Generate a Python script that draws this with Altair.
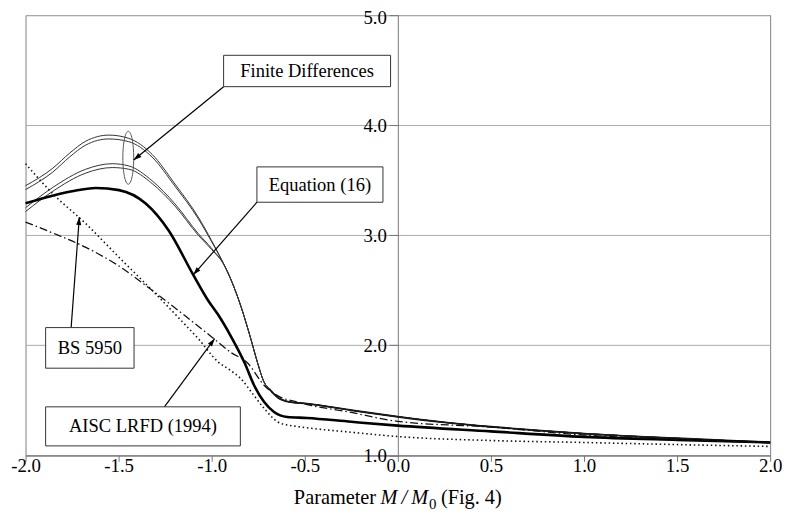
import math
import altair as alt
import pandas as pd

# ---------------- data ----------------
# Finite differences: four thin curves (two close pairs) that merge into one tail
fd_a_x = [-2.0, -1.853, -1.764, -1.676, -1.552, -1.445, -1.32, -1.197, -1.072, -1.0]
fd_a1_y = [3.45, 3.61, 3.745, 3.855, 3.91, 3.88, 3.735, 3.465, 3.165, 2.95]
fd_a2_y = [3.415, 3.575, 3.71, 3.82, 3.875, 3.85, 3.71, 3.445, 3.15, 2.94]
fd_b_x = [-2.0, -1.853, -1.676, -1.534, -1.445, -1.32, -1.197, -1.072, -1.0]
fd_b1_y = [3.25, 3.435, 3.60, 3.65, 3.63, 3.495, 3.285, 3.015, 2.88]
fd_b2_y = [3.215, 3.40, 3.565, 3.615, 3.60, 3.47, 3.265, 3.0, 2.87]
fd_tail_x = [-0.93, -0.896, -0.843, -0.789, -0.754, -0.718, -0.691, -0.647, -0.577,
             -0.488, -0.25, 0.0, 0.25, 0.5, 0.75, 1.0, 1.5, 2.0]
fd_tail_y = [2.72, 2.595, 2.354, 2.054, 1.844, 1.664, 1.604, 1.529, 1.484,
             1.47, 1.41, 1.351, 1.30, 1.26, 1.227, 1.198, 1.155, 1.117]

# Equation (16): thick solid curve
eq_x = [-2.0, -1.855, -1.75, -1.622, -1.498, -1.356, -1.232, -1.099, -1.02, -0.966,
        -0.896, -0.824, -0.771, -0.718, -0.665, -0.594, -0.488, -0.25, 0.0, 0.5, 1.0, 1.5, 2.0]
eq_y = [3.29, 3.36, 3.40, 3.43, 3.41, 3.29, 3.045, 2.64, 2.41, 2.28,
        2.08, 1.844, 1.633, 1.484, 1.394, 1.349, 1.34, 1.305, 1.27, 1.218, 1.168, 1.14, 1.117]

# BS 5950: dotted curve
bs_x = [-2.0, -1.853, -1.676, -1.498, -1.32, -1.144, -1.072, -0.966, -0.897, -0.843,
        -0.78, -0.718, -0.647, -0.59, -0.54, -0.25, 0.0, 0.5, 1.0, 1.5, 2.0]
bs_y = [3.65, 3.376, 3.105, 2.80, 2.50, 2.19, 2.06, 1.85, 1.77, 1.696,
        1.56, 1.426, 1.306, 1.275, 1.262, 1.21, 1.171, 1.135, 1.117, 1.098, 1.081]

# AISC LRFD (1994): dash-dot curve
aisc_x = [-2.0, -1.853, -1.676, -1.498, -1.32, -1.144, -0.984, -0.896, -0.81, -0.716,
          -0.647, -0.54, -0.25, 0.0, 0.5, 1.0, 1.5, 2.0]
aisc_y = [3.12, 3.02, 2.89, 2.72, 2.50, 2.27, 2.054, 1.934, 1.844, 1.633,
          1.543, 1.484, 1.39, 1.309, 1.257, 1.185, 1.145, 1.114]

x_ticks = [-2.0, -1.5, -1.0, -0.5, 0.0, 0.5, 1.0, 1.5, 2.0]
y_ticks = [1.0, 2.0, 3.0, 4.0, 5.0]

box_labels = ["Finite Differences", "Equation (16)", "BS 5950", "AISC LRFD (1994)"]
box_x1 = [-0.936, -0.757, -1.892, -1.892]
box_x2 = [-0.039, -0.080, -1.417, -0.846]
box_y1 = [4.35, 3.30, 1.792, 1.086]
box_y2 = [4.635, 3.621, 2.161, 1.441]

arrow_x1 = [-0.936, -0.757, -1.755, -1.254]
arrow_y1 = [4.35, 3.30, 2.161, 1.441]
arrow_x2 = [-1.419, -1.099, -1.711, -0.984]
arrow_y2 = [3.684, 2.64, 3.165, 2.06]

ellipse_x = [-1.448]
ellipse_y = [3.704]

# ---------------- layout ----------------
W, H = 752, 444.6
PX_X = W / 4.0   # pixels per x unit
PX_Y = H / 4.0   # pixels per y unit
SERIF = "Liberation Serif, Times New Roman, serif"

# ---------------- tables ----------------
rows = []
for name, xs, ys in [("A1", fd_a_x, fd_a1_y), ("A2", fd_a_x, fd_a2_y),
                     ("B1", fd_b_x, fd_b1_y), ("B2", fd_b_x, fd_b2_y)]:
    for xv, yv in zip(xs + fd_tail_x, ys + fd_tail_y):
        rows.append({"series": name, "x": xv, "y": yv})
fd_df = pd.DataFrame(rows)
tail_df = pd.DataFrame({"x": fd_tail_x, "y": fd_tail_y})
tail_df = tail_df[tail_df["x"] >= -0.70]
eq_df = pd.DataFrame({"x": eq_x, "y": eq_y})
bs_df = pd.DataFrame({"x": bs_x, "y": bs_y})
aisc_df = pd.DataFrame({"x": aisc_x, "y": aisc_y})

box_df = pd.DataFrame({"label": box_labels, "x": box_x1, "x2": box_x2, "y": box_y1, "y2": box_y2})
box_df["cx"] = (box_df["x"] + box_df["x2"]) / 2
box_df["cy"] = (box_df["y"] + box_df["y2"]) / 2

arr_df = pd.DataFrame({"x": arrow_x1, "y": arrow_y1, "x2": arrow_x2, "y2": arrow_y2})
angles = []
for a0, b0, c0, d0 in zip(arrow_x1, arrow_y1, arrow_x2, arrow_y2):
    dx = (c0 - a0) * PX_X
    dy_screen = -(d0 - b0) * PX_Y
    angles.append(math.degrees(math.atan2(dx, -dy_screen)) % 360)
arr_df["angle"] = angles

ell_df = pd.DataFrame({"x": ellipse_x, "y": ellipse_y})

# ---------------- encodings ----------------
X_SCALE = alt.Scale(domain=[-2, 2], nice=False, zero=False)
Y_SCALE = alt.Scale(domain=[1, 5], nice=False, zero=False)

x_axis = alt.Axis(
    values=x_ticks,
    labelExpr="(datum.value < 0 ? '-' : '') + format(abs(datum.value), '.1f')",
    labelFont=SERIF, labelFontSize=19, labelColor="black",
    tickSize=6, tickColor="#777777", domainColor="#777777",
    labelPadding=10, labelBaseline="alphabetic",
    labelFlush=False, labelOverlap=False, grid=False, title=None,
)
y_axis = alt.Axis(
    values=y_ticks,
    labelExpr="format(datum.value, '.1f')",
    labelFont=SERIF, labelFontSize=19, labelColor="black",
    offset=-W / 2, tickSize=9, tickColor="#777777", domainColor="#777777",
    labelPadding=2.5, labelBaseline="middle",
    labelOffset={"condition": {"test": "datum.value == 5", "value": 2.5}, "value": 0},
    labelFlush=False, labelOverlap=False,
    grid=True, gridColor="#aaaaaa", gridWidth=1, title=None,
)

X = alt.X("x:Q", scale=X_SCALE, axis=x_axis)
Y = alt.Y("y:Q", scale=Y_SCALE, axis=y_axis)

fd_layer = alt.Chart(fd_df).mark_line(color="#333333", strokeWidth=1, interpolate="monotone").encode(
    x=X, y=Y, detail="series:N")
tail_layer = alt.Chart(tail_df).mark_line(color="#1a1a1a", strokeWidth=1.9, interpolate="monotone").encode(
    x=X, y=Y)
eq_layer = alt.Chart(eq_df).mark_line(color="black", strokeWidth=2.6, interpolate="monotone").encode(x=X, y=Y)
bs_layer = alt.Chart(bs_df).mark_line(color="#111111", strokeWidth=1.6, strokeDash=[1.5, 2.8],
                                      interpolate="monotone").encode(x=X, y=Y)
aisc_layer = alt.Chart(aisc_df).mark_line(color="#111111", strokeWidth=1.3, strokeDash=[8, 3, 1.5, 3],
                                          interpolate="monotone").encode(x=X, y=Y)

a = 0.206
k = 0.5523
ell_path = (f"M0,-1 C{a*k:.4f},-1 {a:.4f},{-k} {a:.4f},0 C{a:.4f},{k} {a*k:.4f},1 0,1 "
            f"C{-a*k:.4f},1 {-a:.4f},{k} {-a:.4f},0 C{-a:.4f},{-k} {-a*k:.4f},-1 0,-1 Z")
ell_layer = alt.Chart(ell_df).mark_point(shape=ell_path, size=2851, filled=False, stroke="#555555",
                                         strokeWidth=1, opacity=1).encode(x=X, y=Y)

arrow_lines = alt.Chart(arr_df).mark_rule(color="black", strokeWidth=1.2).encode(
    x=X, y=Y, x2="x2:Q", y2="y2:Q")
head_df = arr_df[["x2", "y2", "angle"]].rename(columns={"x2": "x", "y2": "y"})
arrow_heads = alt.Chart(head_df).mark_point(shape="M0,0 L0.32,1 L-0.32,1 Z", size=256, filled=True,
                                            color="black", opacity=1).encode(
    x=X, y=Y, angle=alt.Angle("angle:Q", scale=None))

boxes = alt.Chart(box_df).mark_rect(fill="white", stroke="#333333", strokeWidth=1).encode(
    x=X, x2="x2:Q", y=Y, y2="y2:Q")
box_text = alt.Chart(box_df).mark_text(font=SERIF, fontSize=18.7, color="black", baseline="middle").encode(
    x=alt.X("cx:Q", scale=X_SCALE), y=alt.Y("cy:Q", scale=Y_SCALE), text="label:N")

title_src = pd.DataFrame({"t": ["Parameter", "M\u2009/\u2009M", "0", "(Fig. 4)"]})
def title_piece(i, xpix, ypix, size, style):
    return alt.Chart(title_src.iloc[[i]]).mark_text(
        align="left", baseline="alphabetic", font=SERIF, fontSize=size, fontStyle=style, color="black"
    ).encode(x=alt.value(xpix), y=alt.value(ypix), text="t:N")

t1 = title_piece(0, 271, 493.5, 20.5, "normal")
t2 = title_piece(1, 358.5, 493.5, 20.5, "italic")
t3 = title_piece(2, 407.5, 498.5, 15, "normal")
t4 = title_piece(3, 419.5, 493.5, 20.5, "normal")

chart = alt.layer(
    fd_layer, tail_layer, eq_layer, bs_layer, aisc_layer, ell_layer,
    arrow_lines, boxes, box_text, arrow_heads, t1, t2, t3, t4,
).properties(
    width=W, height=H,
    autosize=alt.AutoSizeParams(type="none"),
    padding={"left": 17.7, "top": 4.7, "right": 15, "bottom": 56},
    background="white",
).configure_view(
    stroke="#808080", strokeWidth=1,
)

chart.save("out.html", embed_options={"renderer": "svg", "actions": False})
